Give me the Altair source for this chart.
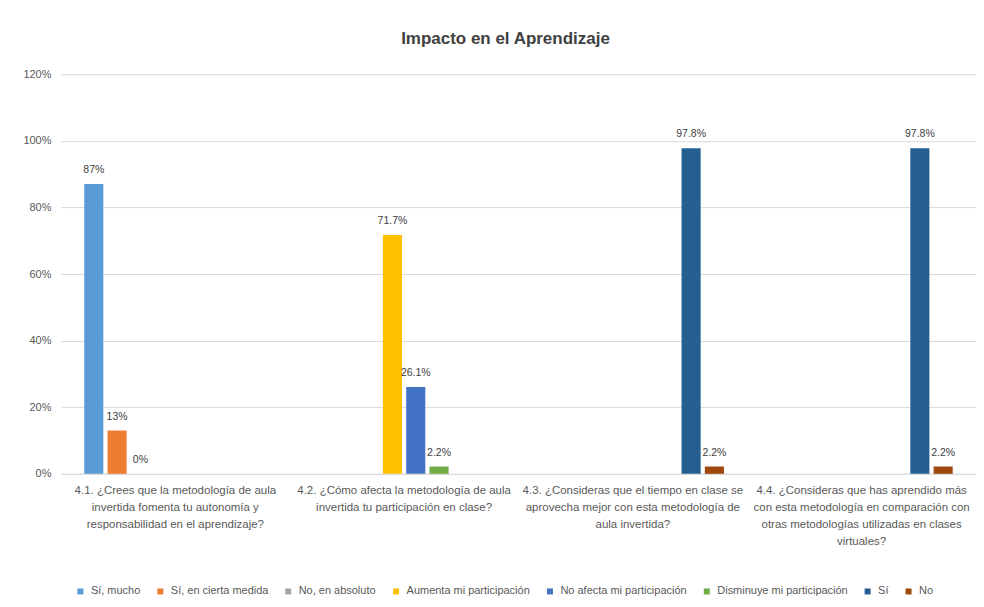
import altair as alt
import pandas as pd

questions = [
    "4.1. ¿Crees que la metodología de aula\ninvertida fomenta tu autonomía y\nresponsabilidad en el aprendizaje?",
    "4.2. ¿Cómo afecta la metodología de aula\ninvertida tu participación en clase?",
    "4.3. ¿Consideras que el tiempo en clase se\naprovecha mejor con esta metodología de\naula invertida?",
    "4.4. ¿Consideras que has aprendido más\ncon esta metodología en comparación con\notras metodologías utilizadas en clases\nvirtuales?",
]

series_names = [
    "Sí, mucho",
    "Sí, en cierta medida",
    "No, en absoluto",
    "Aumenta mi participación",
    "No afecta mi participación",
    "Disminuye mi participación",
    "Sí",
    "No",
]
series_colors = ["#5B9BD5", "#ED7D31", "#A5A5A5", "#FFC000", "#4472C4", "#70AD47", "#255E91", "#9E480E"]

row_question = [0, 0, 0, 1, 1, 1, 2, 2, 3, 3]
row_series = [0, 1, 2, 3, 4, 5, 6, 7, 6, 7]
row_values = [0.87, 0.13, 0.0, 0.717, 0.261, 0.022, 0.978, 0.022, 0.978, 0.022]
row_labels = ["87%", "13%", "0%", "71.7%", "26.1%", "2.2%", "97.8%", "2.2%", "97.8%", "2.2%"]

df = pd.DataFrame({
    "pregunta": [questions[i] for i in row_question],
    "serie": [series_names[i] for i in row_series],
    "valor": row_values,
    "etiqueta": row_labels,
})

FONT = "Liberation Sans"
GRAY = "#595959"

x_enc = alt.X(
    "pregunta:N",
    sort=questions,
    scale=alt.Scale(domain=questions, paddingInner=0, paddingOuter=0),
    axis=alt.Axis(
        title=None,
        labelAngle=0,
        labelExpr="split(datum.label, '\\n')",
        labelLimit=400,
        labelBaseline="top",
        labelLineHeight=17,
        labelPadding=11,
        labelFontSize=11.5,
        labelColor=GRAY,
        labelFont=FONT,
        ticks=False,
        domainColor="#d9d9d9",
        domainWidth=1,
    ),
)
xo_enc = alt.XOffset(
    "serie:N",
    scale=alt.Scale(domain=series_names, paddingInner=0.18, paddingOuter=1.0),
)
y_enc = alt.Y(
    "valor:Q",
    scale=alt.Scale(domain=[0, 1.2], nice=False),
    axis=alt.Axis(
        title=None,
        values=[0, 0.2, 0.4, 0.6, 0.8, 1.0, 1.2],
        format=".0%",
        domain=False,
        ticks=False,
        labelPadding=10,
        labelFontSize=11,
        labelColor=GRAY,
        labelFont=FONT,
        gridColor="#d9d9d9",
        gridWidth=1,
    ),
)

bars = alt.Chart(df).mark_bar().encode(
    x=x_enc,
    xOffset=xo_enc,
    y=y_enc,
    color=alt.Color(
        "serie:N",
        scale=alt.Scale(domain=series_names, range=series_colors),
        legend=alt.Legend(
            title=None,
            orient="none",
            legendX=14,
            legendY=512,
            direction="horizontal",
            columns=8,
            columnPadding=14,
            symbolType="square",
            symbolSize=36,
            symbolStrokeWidth=0,
            labelFontSize=11,
            labelColor=GRAY,
            labelFont=FONT,
            labelOffset=5,
            labelLimit=300,
        ),
    ),
)

text = alt.Chart(df).mark_text(
    baseline="bottom", dy=-9, fontSize=10.5, color="#404040", font=FONT
).encode(
    x=alt.X("pregunta:N", sort=questions),
    xOffset=alt.XOffset("serie:N"),
    y=alt.Y("valor:Q"),
    text="etiqueta:N",
)

chart = (
    alt.layer(bars, text)
    .properties(
        width=916,
        height=400,
        padding={"left": 14, "top": 22, "right": 0, "bottom": 0},
        title=alt.TitleParams(
            "Impacto en el Aprendizaje",
            fontSize=17,
            fontWeight="bold",
            font=FONT,
            color="#404040",
            anchor="middle",
            offset=20,
            dx=-13,
        ),
    )
    .configure_view(stroke=None)
)

chart.save("out.html", embed_options={"renderer": "svg", "actions": False})
